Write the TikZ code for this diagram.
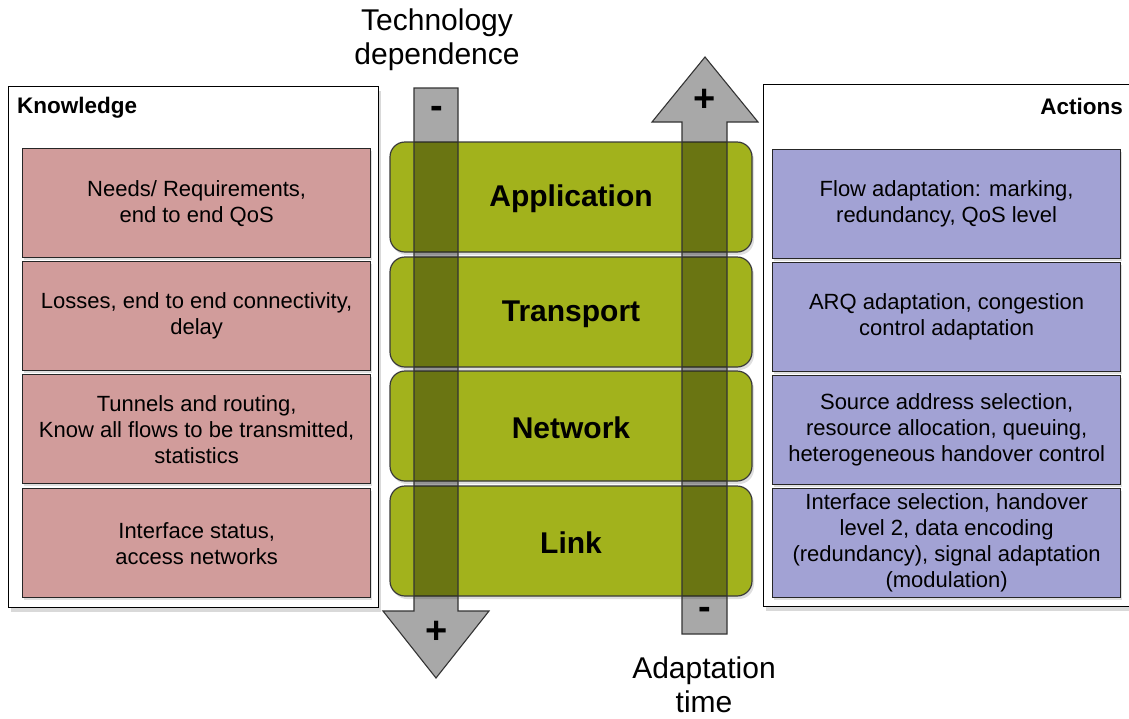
\documentclass[tikz,border=0pt]{standalone}
\usepackage{fontspec}
\setmainfont{Liberation Sans}
\usetikzlibrary{shadows}
\definecolor{pinkfill}{HTML}{D19C9B}
\definecolor{bluefill}{HTML}{A2A2D4}
\definecolor{greenfill}{HTML}{A2B21C}
\definecolor{edgegray}{HTML}{3A3A3A}
\begin{document}
\begin{tikzpicture}[x=1pt,y=-1pt,
  outerbox/.style={draw=black, line width=1.3pt, fill=white,
    drop shadow={shadow xshift=2pt, shadow yshift=-4pt, opacity=0.3}},
  card/.style={draw=black!85, line width=1.3pt, minimum width=348pt, minimum height=109pt,
    inner sep=0pt, align=center, font=\fontsize{22}{26}\selectfont, anchor=north west,
    drop shadow={shadow xshift=1pt, shadow yshift=-2pt, opacity=0.25}},
  kcard/.style={card, fill=pinkfill},
  acard/.style={card, fill=bluefill},
  layer/.style={draw=edgegray, line width=1.2pt, fill=greenfill, rounded corners=15pt,
    minimum width=362pt, minimum height=110pt, inner sep=0pt,
    drop shadow={shadow xshift=2pt, shadow yshift=-3pt, opacity=0.25}},
  layerlabel/.style={font=\fontsize{30}{34}\selectfont\bfseries, inner sep=0pt, yshift=-2pt},
  arrowshape/.style={fill=black, fill opacity=0.34, draw=black!80, line width=1.1pt, line join=miter},
  sign/.style={font=\fontsize{38}{38}\selectfont\bfseries, inner sep=0pt},
  title/.style={font=\fontsize{30}{34}\selectfont, align=center, inner sep=0pt},
  heading/.style={font=\fontsize{22.5}{26}\selectfont\bfseries, inner sep=0pt}
]
\useasboundingbox (0,0) rectangle (1129,718);
\begin{scope}
\clip (0,0) rectangle (1129,718);
% outer boxes
\node[outerbox, anchor=north west, minimum width=370pt, minimum height=521pt, inner sep=0pt] (know) at (8,86) {};
\node[outerbox, anchor=north west, minimum width=380pt, minimum height=522pt, inner sep=0pt] (act) at (763,84) {};
\end{scope}
\node[heading, anchor=west] (knowlabel) at (17,108) {Knowledge};
\node[heading, anchor=east] (actlabel) at (1123,106) {Actions};
% knowledge cards
\node[kcard] (k1) at (22,148) {Needs/ Requirements,\\end to end QoS};
\node[kcard] (k2) at (22,261) {Losses, end to end connectivity,\\delay};
\node[kcard] (k3) at (22,374) {Tunnels and routing,\\Know all flows to be transmitted,\\statistics};
\node[kcard] (k4) at (22,488) {Interface status,\\access networks};
% action cards
\node[acard] (a1) at (772,149) {Flow adaptation: marking,\\redundancy, QoS level};
\node[acard] (a2) at (772,262) {ARQ adaptation, congestion\\control adaptation};
\node[acard] (a3) at (772,375) {Source address selection,\\resource allocation, queuing,\\heterogeneous handover control};
\node[acard] (a4) at (772,488) {Interface selection, handover\\level 2, data encoding\\(redundancy), signal adaptation\\(modulation)};
% layers
\node[layer] (app) at (571,197) {};
\node[layer] (tra) at (571,312) {};
\node[layer] (net) at (571,426) {};
\node[layer] (lnk) at (571,541) {};
% arrows
\draw[arrowshape] (414,88) -- (458,88) -- (458,611) -- (489,611) -- (436,678) -- (383,611) -- (414,611) -- cycle;
\draw[arrowshape] (682,634) -- (727,634) -- (727,122) -- (758,122) -- (705,57) -- (652,122) -- (682,122) -- cycle;
% layer labels
\node[layerlabel] (applabel) at (app) {Application};
\node[layerlabel] (tralabel) at (tra) {Transport};
\node[layerlabel] (netlabel) at (net) {Network};
\node[layerlabel] (lnklabel) at (lnk) {Link};
% signs
\node[sign] (tminus) at (437,112) {-};
\node[sign] (tplus) at (437,632) {+};
\node[sign] (aplus) at (705,100) {+};
\node[sign] (aminus) at (705,613) {-};
% titles
\node[title] (techdep) at (437,40) {Technology\\dependence};
\node[title] (adapt) at (704,685) {Adaptation\\time};
\end{tikzpicture}
\end{document}
